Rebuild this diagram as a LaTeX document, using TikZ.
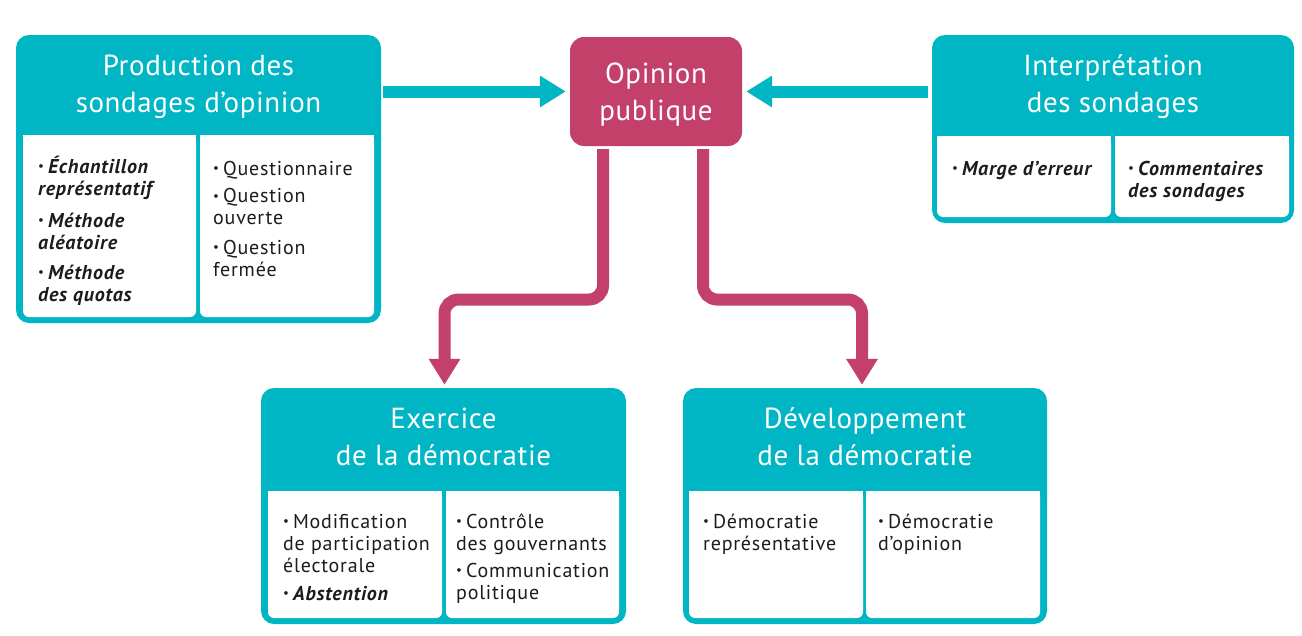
\documentclass[tikz,border=0pt]{standalone}
\usepackage{fontspec}
\setmainfont{PT Sans}
\newfontfamily\bodyfont[LetterSpace=4]{PT Sans}
\newfontfamily\titlefont[LetterSpace=2]{PT Sans}
\usetikzlibrary{arrows.meta}
\definecolor{tealc}{RGB}{0,181,196}
\definecolor{magc}{RGB}{195,64,107}
\definecolor{txtc}{RGB}{28,28,28}
\newcommand{\bul}{{\fontsize{13}{13}\selectfont\raisebox{0.35ex}{•}}\hspace{4pt}}
\newcommand{\bi}[1]{\textbf{\textit{#1}}}
\newcommand{\panel}[4]{%
  \fill[white, rounded corners=6pt] (#1,#2) rectangle (#3,#4);
  \fill[white] (#1,#2) rectangle (#3,{#2+20});}
\tikzset{
  tbox/.style={rounded corners=13pt, fill=tealc, inner sep=0pt},
  obox/.style={rounded corners=14pt, fill=magc, inner sep=0pt},
  ttl/.style={anchor=base, inner sep=0pt, text=white, font=\titlefont\fontsize{29}{37}\selectfont},
  bodytxt/.style={anchor=base west, inner sep=0pt, text=txtc},
  tealarr/.style={draw=tealc, line width=12pt, -{Triangle[width=30pt,length=26pt]}},
  magarr/.style={draw=magc, line width=12pt, rounded corners=14pt, -{Triangle[width=30pt,length=26pt]}},
}
\newcommand{\col}[2]{\parbox[t]{#1}{\raggedright\bodyfont\fontsize{20}{22}\selectfont #2}}
\newcommand{\ttltext}[1]{\parbox[t]{340pt}{\centering #1}}
\begin{document}
\begin{tikzpicture}[x=1pt,y=-1pt]
\useasboundingbox (0,0) rectangle (1302,635);
% boxes
\node[tbox, minimum width=365pt, minimum height=288pt] (prod) at (198.5,179) {};
\node[tbox, minimum width=362pt, minimum height=188pt] (interp) at (1113,129) {};
\node[obox, minimum width=172pt, minimum height=109pt] (op) at (656,91.5) {};
\node[tbox, minimum width=365pt, minimum height=236pt] (exer) at (443.5,506) {};
\node[tbox, minimum width=364pt, minimum height=236pt] (dev) at (865,506) {};
% panels
\panel{23}{135}{196}{317}
\panel{200}{135}{374}{317}
\panel{937}{136}{1111}{217}
\panel{1115}{136}{1289}{217}
\panel{268}{491}{442}{618}
\panel{446}{491}{619}{618}
\panel{689}{491}{863}{618}
\panel{866}{491}{1040}{618}
% titles
\node[ttl] (prodt) at (198.5,75) {\ttltext{Production des\\sondages d’opinion}};
\node[ttl] (interpt) at (1113,75) {\ttltext{Interprétation\\des sondages}};
\node[ttl] (opt) at (656,83) {\ttltext{Opinion\\publique}};
\node[ttl] (exert) at (443.5,428) {\ttltext{Exercice\\de la démocratie}};
\node[ttl] (devt) at (865,428) {\ttltext{Développement\\de la démocratie}};
% body texts
\node[bodytxt] (p1) at (38,173) {\col{155pt}{\bul\bi{Échantillon}\\\bi{représentatif}\\[10pt]\bul\bi{Méthode}\\\bi{aléatoire}\\[8pt]\bul\bi{Méthode}\\\bi{des quotas}}};
\node[bodytxt] (p2) at (213,175) {\col{160pt}{\bul Questionnaire\\[5.5pt]\bul Question\\ouverte\\[7.5pt]\bul Question\\fermée}};
\node[bodytxt] (i1) at (952,175) {\col{158pt}{\bul\bi{Marge d’erreur}}};
\node[bodytxt] (i2) at (1128,175) {\col{160pt}{\bul\bi{Commentaires}\\\bi{des sondages}}};
\node[bodytxt] (e1) at (283,528) {\col{158pt}{\bul Modification\\de participation\\électorale\\[6pt]\bul\bi{Abstention}}};
\node[bodytxt] (e2) at (456,528) {\col{162pt}{\bul Contrôle\\des gouvernants\\[5pt]\bul Communication\\politique}};
\node[bodytxt] (d1) at (703,528) {\col{158pt}{\bul Démocratie\\représentative}};
\node[bodytxt] (d2) at (878,528) {\col{158pt}{\bul Démocratie\\d’opinion}};
% connectors
\draw[tealarr, shorten <=2pt, shorten >=4pt] (prod.east |- op.west) -- (op.west);
\draw[tealarr, shorten <=4pt, shorten >=4pt] (interp.west |- op.east) -- (op.east);
\coordinate (m1) at (444.5,299.5);
\coordinate (m2) at (862,299.5);
\draw[magarr, shorten <=3pt, shorten >=3pt] ([xshift=-53pt]op.south) |- (m1) -- (m1 |- exer.north);
\draw[magarr, shorten <=3pt, shorten >=3pt] ([xshift=47pt]op.south) |- (m2) -- (m2 |- dev.north);
\end{tikzpicture}
\end{document}
